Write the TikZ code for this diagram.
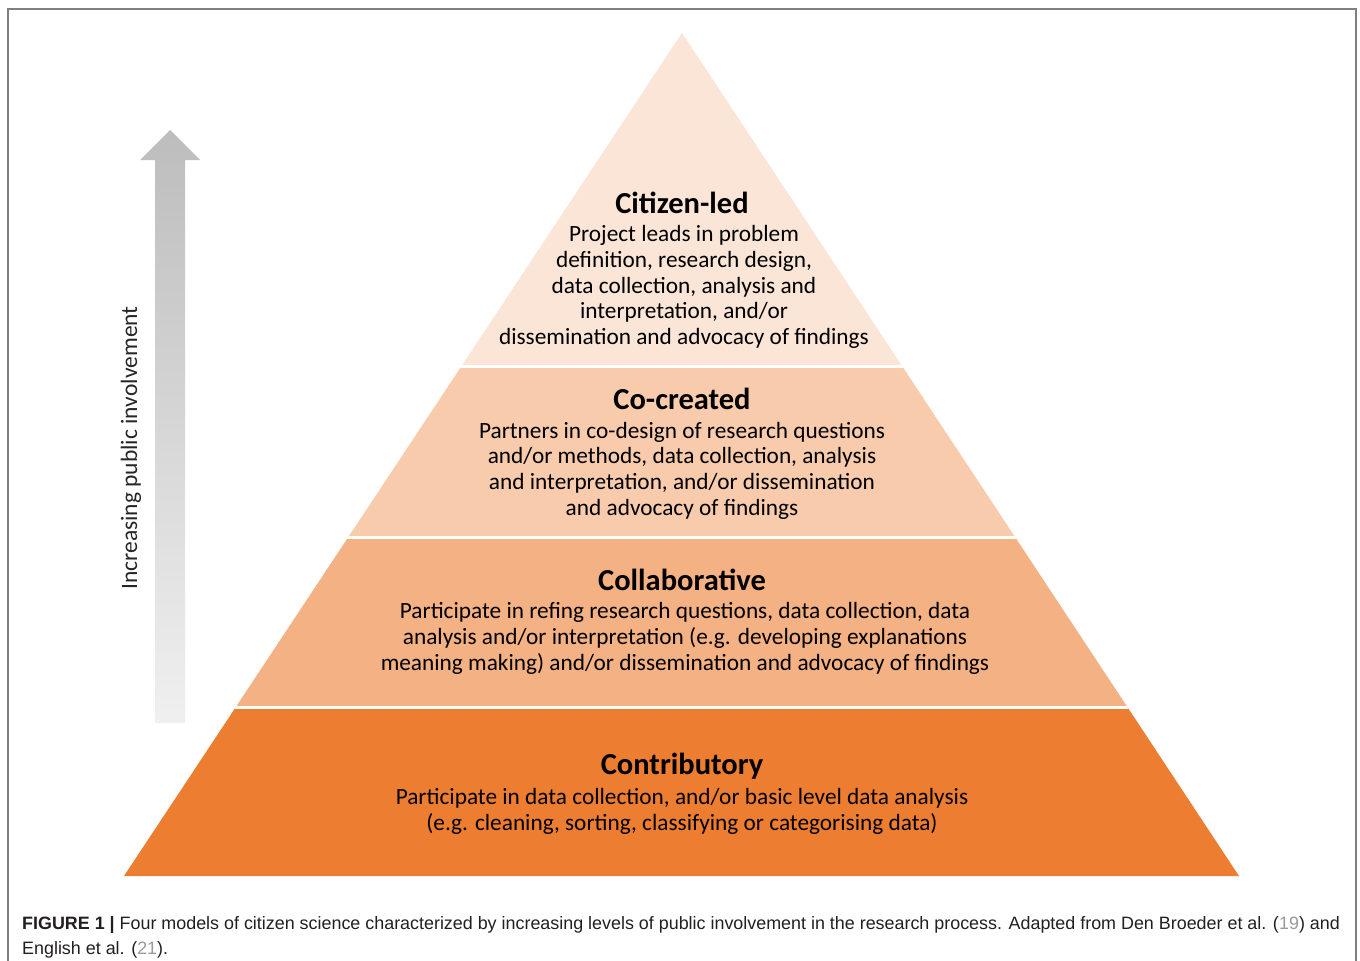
\documentclass[tikz,border=0pt]{standalone}
\usepackage{fontspec}
\setmainfont{Carlito}
\newfontfamily\capfont{Liberation Sans}
\definecolor{bandA}{HTML}{FBE5D6}
\definecolor{bandB}{HTML}{F8CBAD}
\definecolor{bandC}{HTML}{F4B183}
\definecolor{bandD}{HTML}{ED7D31}
\definecolor{framegray}{HTML}{7F7F7F}
\definecolor{captext}{HTML}{231F20}
\definecolor{refgray}{HTML}{9A9A9A}
\tikzset{
  titletext/.style={inner sep=0pt, font=\fontsize{30.5}{34}\selectfont\bfseries, text=black},
  bodytext/.style={inner sep=0pt, align=center, font=\fontsize{23.3}{25.7}\selectfont, text=black},
  captiontext/.style={inner sep=0pt, anchor=base west, font=\capfont\fontsize{17.9}{21}\selectfont, text=captext},
  gapline/.style={white, line width=3pt}
}
\begin{document}
\begin{tikzpicture}[x=1pt,y=-1pt]
\useasboundingbox (0,0) rectangle (1360,961);
\fill[white] (0,0) rectangle (1360,961);
\draw[framegray, line width=1.5pt] (8,961) -- (8,9) -- (1356,9) -- (1356,961);

% pyramid
\coordinate (apex) at (682,33);
\coordinate (bl) at (124,876);
\coordinate (br) at (1239,876);
\begin{scope}
  \clip (apex) -- (bl) -- (br) -- cycle;
  \fill[bandA] (100,30) rectangle (1260,366);
  \fill[bandB] (100,366) rectangle (1260,537);
  \fill[bandC] (100,537) rectangle (1260,707);
  \fill[bandD] (100,707) rectangle (1260,880);
  \draw[gapline] (100,366) -- (1260,366);
  \draw[gapline] (100,537) -- (1260,537);
  \draw[gapline] (100,707) -- (1260,707);
\end{scope}

% arrow
\shade[top color=black!26, bottom color=black!6]
  (155,723) -- (155,160) -- (140,160) -- (170,130) -- (200,160) -- (185,160) -- (185,723) -- cycle;
\node[inner sep=0pt, rotate=90, font=\fontsize{23.5}{26}\selectfont, text=black!85] (arrowlabel) at (131,448) {Increasing public involvement};

% texts
\node[titletext] (t1) at (682,203) {Citizen-led};
\node[bodytext] (b1) at (684,287) {Project leads in problem\\definition, research design,\\data collection, analysis and\\interpretation, and/or\\dissemination and advocacy of findings};

\node[titletext] (t2) at (682,399) {Co-created};
\node[bodytext] (b2) at (682,470.5) {Partners in co-design of research questions\\and/or methods, data collection, analysis\\and interpretation, and/or dissemination\\and advocacy of findings};

\node[titletext] (t3) at (682,580) {Collaborative};
\node[bodytext] (b3) at (685,638.5) {Participate in refing research questions, data collection, data\\analysis and/or interpretation (e.g. developing explanations\\meaning making) and/or dissemination and advocacy of findings};

\node[titletext] (t4) at (682,766) {Contributory};
\node[bodytext] (b4) at (682,811.5) {Participate in data collection, and/or basic level data analysis\\(e.g. cleaning, sorting, classifying or categorising data)};

% caption
\node[captiontext] (cap1) at (22,929) {\textbf{FIGURE 1 |} Four models of citizen science characterized by increasing levels of public involvement in the research process. Adapted from Den Broeder et al. ({\color{refgray}19}) and};
\node[captiontext] (cap2) at (22,954) {English et al. ({\color{refgray}21}).};
\end{tikzpicture}
\end{document}
